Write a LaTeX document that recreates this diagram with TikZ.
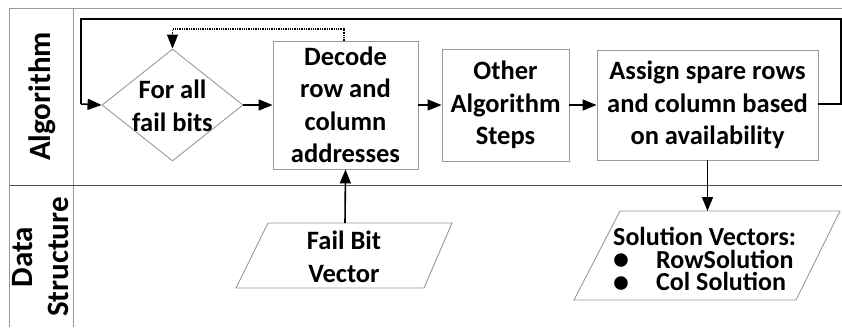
\documentclass[tikz,border=0pt]{standalone}
\usepackage{fontspec}
\setmainfont{Carlito}
\usetikzlibrary{arrows.meta,shapes.geometric}
\tikzset{
  frame/.style={draw=black!40, line width=0.9pt},
  sepline/.style={draw=black!70, line width=0.9pt},
  box/.style={draw=black!40, line width=0.9pt, align=center, inner sep=0pt,
    font=\fontsize{26.5}{32.5}\selectfont\bfseries},
  txt/.style={align=center, inner sep=0pt, font=\fontsize{26.5}{32.5}\selectfont\bfseries},
  side/.style={align=center, inner sep=0pt, rotate=90, font=\fontsize{31}{36}\selectfont\bfseries},
  conn/.style={draw=black, line width=1.6pt, -{Triangle[length=14pt,width=11pt]}},
  plain/.style={draw=black, line width=1.6pt},
  dots/.style={draw=black, line width=1.3pt, densely dotted, -{Triangle[length=14pt,width=11pt]}},
  para/.style={draw=black!40, line width=0.9pt}
}
\newcommand{\bigbul}{\makebox[43pt][l]{\smash{\raisebox{-1.5pt}{\fontsize{32}{32}\selectfont •}}}}
\begin{document}
\begin{tikzpicture}[x=1pt,y=-1pt]
\useasboundingbox (0,0) rectangle (842,327);
% frame
\draw[frame] (842,8.5) -- (9.5,8.5) -- (9.5,327);
\draw[frame] (73.5,8.5) -- (73.5,327);
\draw[sepline] (9.5,185) -- (842,185);
% side labels
\node[side] (lalg) at (42,96.5) {Algorithm};
\node[side] (lds) at (41,257) {Data\\Structure};
% algorithm nodes
\node[diamond, draw=black!40, line width=0.9pt, minimum width=141pt, minimum height=112pt, inner sep=0pt] (dia) at (172.5,105) {};
\node[txt] (diat) at (172.5,106) {For all\\fail bits};
\node[box, minimum width=145pt, minimum height=128pt] (dec) at (345.5,105) {Decode\\row and\\column\\addresses};
\node[box, minimum width=127pt, minimum height=112pt] (oth) at (505.5,105) {Other\\Algorithm\\Steps};
\node[box, minimum width=221pt, minimum height=110pt] (asg) at (707.5,105) {Assign spare rows\\and column based\\on availability};
% data structure shapes
\draw[para] (268,223) -- (452,223) -- (424,288) -- (236,288) -- cycle;
\coordinate (fbtop) at (345,223);
\node[txt] (fbvt) at (344,257) {Fail Bit\\Vector};
\draw[para] (620,211) -- (840,211) -- (796,300) -- (574,300) -- cycle;
\coordinate (soltop) at (707.5,211);
\node[align=left, inner sep=0pt, anchor=west, font=\fontsize{26}{22.5}\selectfont\bfseries] (solt) at (613,259)
  {Solution Vectors:\\
   \bigbul RowSolution\\
   \bigbul Col Solution};
% connectors
\draw[conn] (dia.east) -- (dec.west);
\draw[conn] (dec.east |- oth.west) -- (oth.west);
\draw[conn] (oth.east) -- (asg.west);
\draw[conn] (asg.south) -- (soltop);
\draw[conn] (fbtop) -- (dec.south);
\coordinate (lpA) at (841,104);
\coordinate (lpB) at (841,19);
\coordinate (lpC) at (81,19);
\coordinate (lpD) at (81,104);
\draw[plain] (asg.east |- lpA) -- (lpA) -- (lpB) -- (lpC) -- (lpD);
\draw[conn] (lpD) -- (dia.west);
\coordinate (dtA) at (344,29);
\coordinate (dtB) at (172.5,29);
\draw[dots] (dec.north -| dtA) -- (dtA) -- (dtB) -- (dia.north);
\end{tikzpicture}
\end{document}
